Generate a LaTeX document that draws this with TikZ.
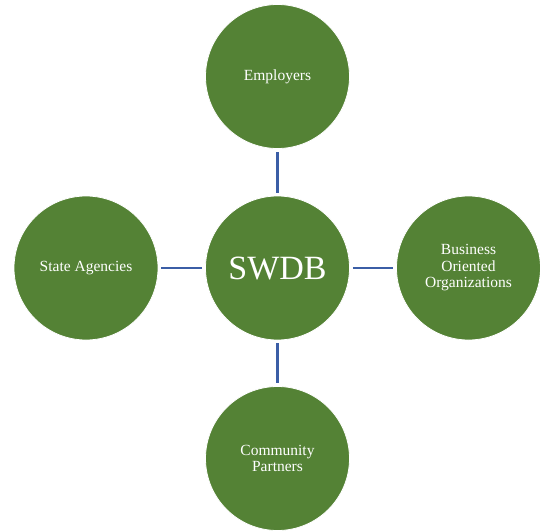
\documentclass[tikz,border=0pt]{standalone}
\usepackage{fontspec}
\setmainfont{Liberation Serif}
\definecolor{hubgreen}{RGB}{84,130,53}
\definecolor{linkblue}{RGB}{59,94,166}

\begin{document}
\begin{tikzpicture}[x=1pt, y=1pt,
  partner/.style={circle, fill=hubgreen, draw=white, line width=0.8pt, minimum size=144pt, inner sep=0pt, text=white, align=center, font=\fontsize{15.5}{16.5}\selectfont},
  link/.style={draw=linkblue, line width=2.4pt, shorten <=3pt, shorten >=3pt}]
\def \xmid      {277.5}
\def \xleft     {86}
\def \xright    {468.5}

\def \ymid      {263}
\def \ytop      {454.5}
\def \ybot      {72.5}

\useasboundingbox (0,0) rectangle (540,531);

% hub
\node [partner, font=\fontsize{34}{40}\selectfont] (swdb) at (\xmid, \ymid) {SWDB};

% partners
\node [partner] (employers) at (\xmid, \ytop) {Employers};
\node [partner] (agencies) at (\xleft, \ymid) {State Agencies};
\node [partner] (business) at (\xright, \ymid) {Business\\Oriented\\Organizations};
\node [partner] (community) at (\xmid, \ybot) {Community\\Partners};

% links
\draw [link] (swdb) -- (employers);
\draw [link] (swdb) -- (agencies);
\draw [link] (swdb) -- (business);
\draw [link] (swdb) -- (community);

\end{tikzpicture}
\end{document}
